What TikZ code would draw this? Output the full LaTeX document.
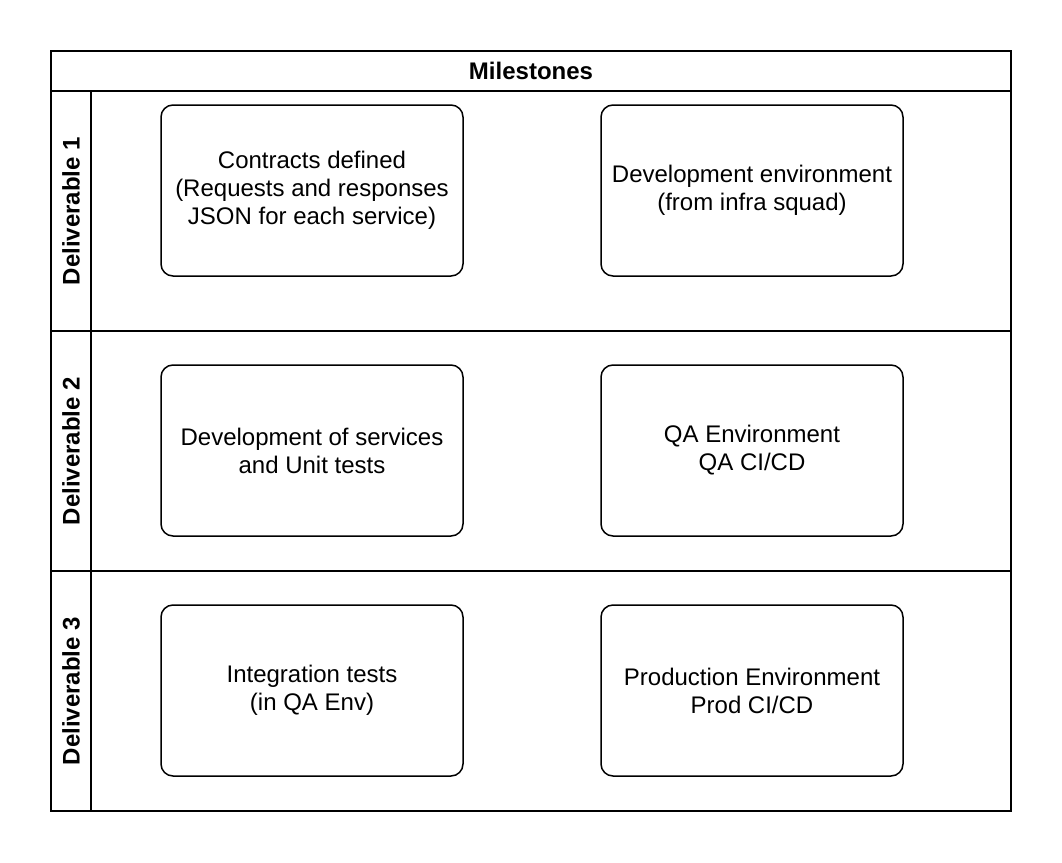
\documentclass[tikz,border=0pt]{standalone}
\usepackage{fontspec}
\setmainfont{Liberation Sans}
\usetikzlibrary{positioning}

\begin{document}
\begin{tikzpicture}[x=1pt,y=-1pt,
  lane/.style={draw, line width=1.5pt, inner sep=0pt},
  lanetitle/.style={font=\fontsize{24}{28}\selectfont\bfseries},
  task/.style={draw, line width=1.5pt, rounded corners=12pt, align=center,
    minimum width=302pt, minimum height=171pt, inner sep=0pt,
    font=\fontsize{24}{28}\selectfont}]
\useasboundingbox (0,0) rectangle (1062,862);
% pool and lanes
\node [lane, minimum width=960pt, minimum height=760pt] (pool) at (531,431) {};
\node [lane, minimum width=960pt, minimum height=40pt] (header) at (531,71) {};
\node [lanetitle] (milestones) at (header.center) {Milestones};
\node [lane, minimum width=960pt, minimum height=240pt] (lane1) at (531,211) {};
\node [lane, minimum width=960pt, minimum height=240pt] (lane2) at (531,451) {};
\node [lane, minimum width=960pt, minimum height=240pt] (lane3) at (531,691) {};
\node [lane, minimum width=40pt, minimum height=240pt] (side1) at (71,211) {};
\node [lane, minimum width=40pt, minimum height=240pt] (side2) at (71,451) {};
\node [lane, minimum width=40pt, minimum height=240pt] (side3) at (71,691) {};
\node [lanetitle, rotate=90] (deliv1) at (side1.center) {Deliverable 1};
\node [lanetitle, rotate=90] (deliv2) at (side2.center) {Deliverable 2};
\node [lanetitle, rotate=90] (deliv3) at (side3.center) {Deliverable 3};
% tasks
\node [task] (contracts) at (312,190.5) {Contracts defined\\(Requests and responses\\JSON for each service)};
\node [task] (devenv) at (752,190.5) {Development environment\\(from infra squad)};
\node [task] (services) at (312,450.5) {Development of services\\and Unit tests};
\node [task] (qaenv) at (752,450.5) {QA Environment\\QA CI/CD};
\node [task] (integration) at (312,690.5) {Integration tests\\(in QA Env)};
\node [task] (prodenv) at (752,690.5) {Production Environment\\Prod CI/CD};
\end{tikzpicture}
\end{document}
